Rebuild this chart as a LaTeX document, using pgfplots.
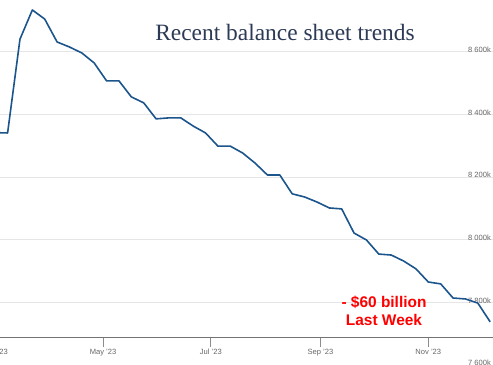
\documentclass[border=0pt]{standalone}
\usepackage{pgfplots}
\pgfplotsset{compat=1.18}
\usepackage{fontspec}
\setmainfont{Liberation Sans}
\newfontfamily\titlefont{Liberation Serif}
\definecolor{lineblue}{RGB}{28,84,140}
\definecolor{titleblue}{RGB}{44,58,85}
\definecolor{gridgray}{RGB}{230,230,230}
\definecolor{labgray}{RGB}{102,102,102}
\pgfplotstableread{
day value
59 8342
66 8341
73 8640
80 8733
87 8704
94 8631
101 8615
108 8596
115 8564
122 8507
129 8507
136 8456
143 8437
150 8386
157 8389
164 8389
171 8363
178 8341
185 8299
192 8299
199 8277
206 8245
213 8207
220 8207
227 8147
234 8137
241 8121
248 8102
255 8099
262 8022
269 8000
276 7955
283 7952
290 7933
297 7908
304 7866
311 7860
318 7815
325 7812
332 7799
339 7739
}\datatable
\begin{document}
\begin{tikzpicture}
\useasboundingbox (0,0) rectangle (493bp,365bp);
\begin{axis}[
  at={(0bp,27.3bp)}, anchor=south west,
  scale only axis, width=493bp, height=337.7bp,
  xmin=61.7, xmax=340.6, ymin=7688.5, ymax=8764.8,
  axis x line*=bottom, axis y line*=right,
  x axis line style={draw=black!55, line width=0.9bp, -},
  y axis line style={draw=none},
  xtick={120,181,243,304},
  xticklabels={May '23, Jul '23, Sep '23, Nov '23},
  xtick style={draw=black!45, line width=0.9bp},
  major tick length=9bp,
  tick align=outside,
  xticklabel style={font=\fontsize{7.6}{9}\selectfont, text=labgray, anchor=north, yshift=1bp},
  ytick={7800,8000,8200,8400,8600},
  yticklabels={7 800k, 8 000k, 8 200k, 8 400k, 8 600k},
  ytick style={draw=none},
  yticklabel pos=right,
  yticklabel style={font=\fontsize{7.6}{9}\selectfont, text=labgray, anchor=south east, xshift=-10bp, yshift=-2bp, inner sep=1bp},
  ymajorgrids, grid style={draw=gridgray, line width=1bp},
  clip=false,
]
\addplot[lineblue, line width=1.6bp, line join=round] table[x=day, y=value] {\datatable};
\node[font=\fontsize{7.6}{9}\selectfont, text=labgray, anchor=north] at (axis cs:59,7688.5) [yshift=-8bp] {Mar '23};
\node[font=\fontsize{7.6}{9}\selectfont, text=labgray, anchor=south east, inner sep=1bp] at (rel axis cs:1,0) [xshift=-1bp, yshift=-29bp] {7 600k};
\end{axis}
\node[font=\titlefont\fontsize{23.5}{28}\selectfont, text=titleblue] at (285bp,333bp) {Recent balance sheet trends};
\node[font=\bfseries\fontsize{15.5}{18}\selectfont, text=red, align=center] at (384bp,54bp) {- \$60 billion\\Last Week};
\end{tikzpicture}
\end{document}
